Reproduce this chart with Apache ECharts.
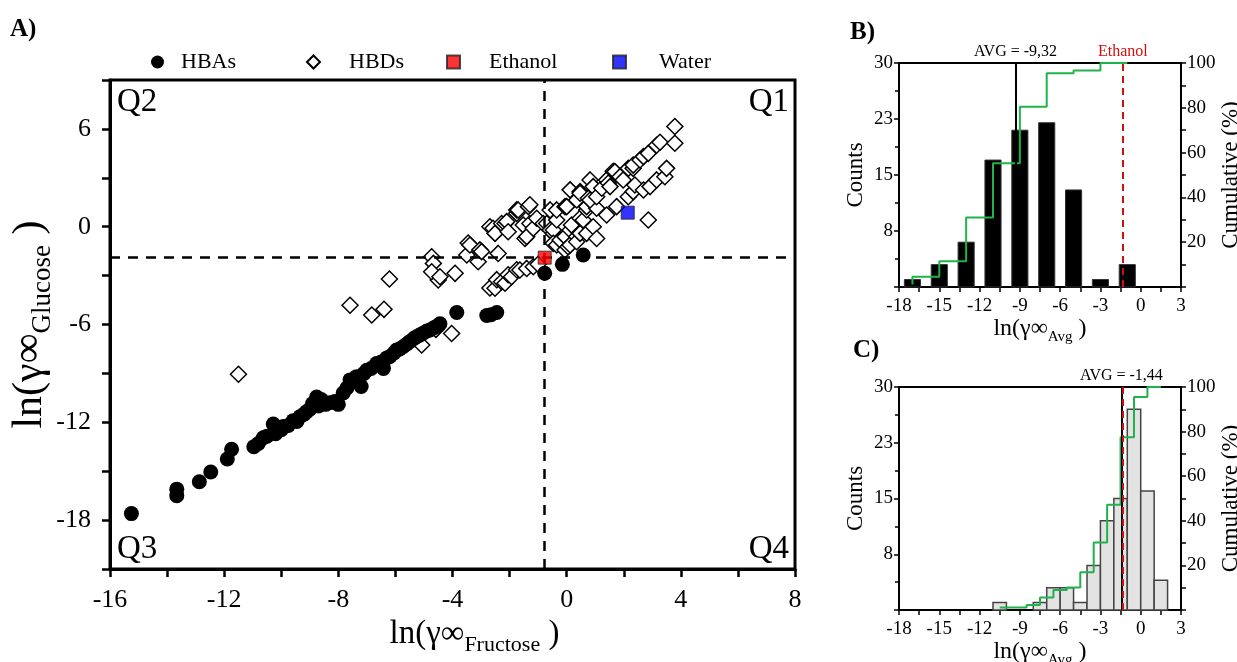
<!DOCTYPE html>
<html>
<head>
<meta charset="utf-8">
<title>Activity coefficients</title>
<script src="https://cdn.jsdelivr.net/npm/echarts@6/dist/echarts.min.js"></script>
<style>
  html, body { margin: 0; padding: 0; background: #fff; }
  #chart { width: 1237px; height: 662px; }
</style>
</head>
<body>
<div id="chart"></div>
<script>
// scatter A: ln(gamma inf) fructose (x) vs glucose (y)
const hbaPoints = [
  [-15.25, -17.6], [-13.66, -16.1], [-13.66, -16.5], [-12.87, -15.65], [-12.47, -15.05],
  [-11.89, -14.25], [-11.74, -13.65], [-10.96, -13.5], [-10.8, -13.3], [-10.63, -12.95],
  [-10.5, -12.85], [-10.28, -12.1], [-10.2, -12.7], [-10.0, -12.45], [-9.93, -12.25],
  [-9.75, -12.2], [-9.58, -11.9], [-9.45, -11.95], [-9.35, -11.66], [-9.2, -11.5],
  [-9.12, -11.36], [-9.0, -11.2], [-8.9, -10.85], [-8.76, -10.45], [-8.7, -11.0],
  [-8.6, -10.6], [-8.45, -10.9], [-8.3, -10.8], [-8.12, -10.72], [-8.0, -10.9],
  [-7.83, -10.2], [-7.7, -9.9], [-7.59, -9.4], [-7.45, -9.5], [-7.36, -9.2],
  [-7.2, -9.8], [-7.1, -9.0], [-7.0, -8.8], [-6.85, -8.7], [-6.66, -8.4],
  [-6.5, -8.3], [-6.42, -8.7], [-6.3, -8.05], [-6.19, -7.96], [-6.05, -7.75],
  [-5.96, -7.57], [-5.85, -7.5], [-5.72, -7.35], [-5.6, -7.2], [-5.49, -7.04],
  [-5.35, -6.85], [-5.26, -6.75], [-5.15, -6.65], [-5.03, -6.53], [-4.9, -6.4],
  [-4.79, -6.34], [-4.65, -6.2], [-4.56, -6.12], [-4.44, -5.95], [-3.85, -5.26],
  [-2.8, -5.45], [-2.65, -5.4], [-2.45, -5.26], [-0.77, -2.86], [-0.15, -2.31],
  [0.58, -1.74]
];
const hbdPoints = [
  [-11.5, -9.05], [-7.59, -4.82], [-6.83, -5.42], [-6.4, -5.07], [-6.21, -3.21],
  [-5.08, -7.26], [-4.58, -6.3], [-4.03, -6.55], [-4.5, -3.27],
  [-4.73, -1.84], [-4.67, -2.25], [-4.73, -2.76], [-4.44, -3.07], [-3.91, -2.86],
  [-3.5, -1.74], [-3.45, -1.0], [-3.39, -1.12], [-3.1, -2.15], [-3.04, -1.42], [-2.98, -1.53],
  [-2.69, 0.0], [-2.58, -0.1], [-2.51, -0.41], [-2.4, -1.64], [-2.28, 0.2], [-2.16, 0.2],
  [-2.1, 0.31], [-2.05, -0.31], [-1.75, 0.82], [-1.75, 1.03], [-1.7, 1.03], [-1.52, 0.1],
  [-1.46, -0.72], [-1.4, -0.61], [-1.34, 1.23], [-1.29, 1.35], [-1.29, 0.2], [-1.17, -0.1],
  [-1.05, 0.52], [-0.82, 0.2], [-0.7, 0.2],
  [-2.69, -3.76], [-2.51, -3.78], [-2.45, -3.25], [-2.28, -3.38], [-2.16, -3.47],
  [-2.05, -2.95], [-1.93, -3.07], [-1.75, -2.64], [-1.64, -2.66], [-1.4, -2.56],
  [-1.17, -2.46], [-1.0, -2.3],
  [-0.58, 1.03], [-0.58, -0.2], [-0.47, -0.41], [-0.47, -0.2], [-0.47, -1.02], [-0.35, 0.41],
  [-0.35, -1.12], [-0.35, 1.03], [-0.23, -0.82], [-0.06, 1.23], [-0.06, -0.61], [-0.06, -1.43],
  [0.0, 1.23], [0.05, -1.23], [0.12, -0.2], [0.12, -1.12], [0.17, 0.1], [0.35, -0.61],
  [0.35, -0.92], [0.47, 0.52], [0.47, -0.41], [0.58, 0.41], [0.7, -0.41], [0.7, 1.03],
  [0.7, 1.23], [0.93, 0.0], [1.05, -0.72], [1.05, 1.13], [1.4, 0.72], [1.75, 1.23],
  [2.86, 0.41],
  [0.12, 2.26], [0.35, 1.64], [0.47, 2.15], [0.47, 2.05], [0.76, 1.74], [0.82, 1.64],
  [0.82, 2.87], [0.93, 2.46], [1.05, 1.84], [1.23, 2.36], [1.4, 2.87], [1.46, 2.68],
  [1.52, 2.46], [1.63, 3.4], [1.69, 3.38], [1.87, 3.07], [1.98, 2.87], [2.16, 1.84],
  [2.16, 3.58], [2.33, 2.15], [2.33, 3.58], [2.33, 3.78], [2.39, 2.56], [2.57, 4.09],
  [2.69, 2.25], [2.69, 4.3], [2.86, 4.5], [2.92, 2.46], [3.15, 2.87], [3.15, 5.0],
  [3.27, 5.18], [3.44, 3.07], [3.5, 3.58], [3.79, 5.12], [3.79, 6.15]
];
const ethanolPoint = [-0.77, -1.9];
const waterPoint = [2.14, 0.86];
const quadrantX = -0.77;
const quadrantY = -1.9;

// histogram B (HBAs): bin centres, counts, cumulative %
const binsB = [-17, -15, -13, -11, -9, -7, -5, -3, -1];
const countsB = [1, 3, 6, 17, 21, 22, 13, 1, 3];
const cumB = [1.1, 4.6, 11.5, 31.0, 55.2, 80.5, 95.4, 96.6, 100];
const avgB = -9.32;

// histogram C (HBDs)
const binsC = [-10.5, -9.5, -8.5, -7.5, -6.5, -5.5, -4.5, -3.5, -2.5, -1.5, -0.5, 0.5, 1.5];
const countsC = [1, 0, 0, 1, 3, 3, 1, 6, 12, 15, 27, 16, 4];
const cumC = [1.1, 1.1, 1.1, 2.2, 5.6, 9.0, 10.1, 16.9, 30.3, 47.2, 77.5, 95.5, 100];
const avgC = -1.44;
const ethanolAvg = -1.33;

const serif = '"Liberation Serif", "DejaVu Serif", serif';
const chart = echarts.init(document.getElementById('chart'));

function barRenderer(halfWidth, fill, stroke, lw) {
  return function (params, api) {
    const x = api.value(0);
    const c = api.value(1);
    if (!c) return null;
    const p0 = api.coord([x - halfWidth, c]);
    const p1 = api.coord([x + halfWidth, 0]);
    return {
      type: 'rect',
      shape: { x: p0[0], y: p0[1], width: p1[0] - p0[0], height: p1[1] - p0[1] },
      style: { fill: fill, stroke: stroke, lineWidth: lw }
    };
  };
}

const histX = (idx) => ({
  gridIndex: idx, type: 'value', min: -18, max: 3, interval: 3,
  name: '{a|ln(γ∞}{s|Avg}{a| )}', nameLocation: 'middle', nameGap: 26,
  nameTextStyle: {
    fontFamily: serif, color: '#000',
    rich: {
      a: { fontSize: 24, fontFamily: serif, lineHeight: 28, verticalAlign: 'top' },
      s: { fontSize: 15, fontFamily: serif, lineHeight: 28, verticalAlign: 'bottom' }
    }
  },
  axisLine: { onZero: false, lineStyle: { color: '#000', width: 2 } },
  axisTick: { length: 5, lineStyle: { color: '#000', width: 1.5 } },
  minorTick: { show: true, splitNumber: 2, length: 5, lineStyle: { color: '#000', width: 1.5 } },
  axisLabel: { fontFamily: serif, fontSize: 19, color: '#000', margin: 10 },
  splitLine: { show: false }
});
const histCounts = (idx) => ({
  gridIndex: idx, type: 'value', min: 0, max: 30, interval: 7.5,
  name: 'Counts', nameLocation: 'middle', nameGap: 32, nameRotate: 90,
  nameTextStyle: { fontFamily: serif, fontSize: 23, color: '#000' },
  axisLine: { onZero: false, lineStyle: { color: '#000', width: 2 } },
  axisTick: { length: 5, lineStyle: { color: '#000', width: 1.5 } },
  minorTick: { show: true, splitNumber: 2, length: 4, lineStyle: { color: '#000', width: 1.5 } },
  axisLabel: {
    fontFamily: serif, fontSize: 19, color: '#000', margin: 6,
    formatter: (v) => (v === 0 ? '' : String(Math.round(v)))
  },
  splitLine: { show: false }
});
const histCum = (idx) => ({
  gridIndex: idx, type: 'value', min: 0, max: 100, interval: 20, position: 'right',
  name: 'Cumulative (%)', nameLocation: 'middle', nameGap: 34, nameRotate: 90,
  nameTextStyle: { fontFamily: serif, fontSize: 23, color: '#000' },
  axisLine: { show: true, onZero: false, lineStyle: { color: '#000', width: 2 } },
  axisTick: { show: true, length: 5, lineStyle: { color: '#000', width: 1.5 } },
  minorTick: { show: true, splitNumber: 2, length: 5, lineStyle: { color: '#000', width: 1.5 } },
  axisLabel: {
    fontFamily: serif, fontSize: 19, color: '#000', margin: 6,
    formatter: (v) => (v === 0 ? '' : String(v))
  },
  splitLine: { show: false }
});

const vLine = (x, color, type, text) => ({
  xAxis: x,
  lineStyle: { color: color, type: type, width: 2 },
  label: text ? { show: true, position: 'end', formatter: text, color: color, fontFamily: serif, fontSize: 16, distance: 3 } : { show: false }
});

const legendBase = (name, left, pad) => ({
  data: [name], left: left, top: 46, itemWidth: 13, itemHeight: 13,
  selectedMode: false,
  textStyle: { fontFamily: serif, fontSize: 22, color: '#000', padding: [0, 0, 0, pad] }
});

const quad = (text, x, y, align) => ({
  type: 'text', x: x, y: y,
  style: { text: text, font: '33px ' + serif, fill: '#000', align: align, verticalAlign: 'top' }
});
const panel = (text, x, y) => ({
  type: 'text', x: x, y: y,
  style: { text: text, font: 'bold 25px ' + serif, fill: '#000', verticalAlign: 'top' }
});

const gridBase = { show: true, borderColor: '#000', backgroundColor: 'transparent', outerBoundsMode: 'none', containLabel: false };

const option = {
  animation: false,
  backgroundColor: '#fff',
  graphic: [
    panel('A)', 10, 17), panel('B)', 850, 20), panel('C)', 853, 338),
    quad('Q2', 117, 86, 'left'), quad('Q1', 789, 86, 'right'),
    quad('Q3', 117, 533, 'left'), quad('Q4', 789, 533, 'right')
  ],
  legend: [
    legendBase('HBAs', 146, 12),
    legendBase('HBDs', 301, 24),
    legendBase('Ethanol', 441, 24),
    legendBase('Water', 607, 28)
  ],
  grid: [
    Object.assign({ left: 110, top: 80, width: 685, height: 489, borderWidth: 3 }, gridBase),
    Object.assign({ left: 899, top: 63, width: 282, height: 224, borderWidth: 2 }, gridBase),
    Object.assign({ left: 899, top: 387, width: 282, height: 223, borderWidth: 2 }, gridBase)
  ],
  xAxis: [
    {
      gridIndex: 0, type: 'value', min: -16, max: 8, interval: 2,
      name: '{a|ln(γ∞}{s|Fructose}{a| )}', nameLocation: 'middle', nameGap: 44,
      nameTextStyle: {
        fontFamily: serif, color: '#000', padding: [0, 0, 0, 44],
        rich: {
          a: { fontSize: 33, fontFamily: serif, lineHeight: 38, verticalAlign: 'top' },
          s: { fontSize: 22, fontFamily: serif, lineHeight: 38, verticalAlign: 'bottom' }
        }
      },
      axisLine: { onZero: false, lineStyle: { color: '#000', width: 3 } },
      axisTick: { length: 8, lineStyle: { color: '#000', width: 2.5 } },
      axisLabel: {
        fontFamily: serif, fontSize: 26, color: '#000', margin: 18,
        formatter: (v) => (v % 4 === 0 ? String(v) : '')
      },
      splitLine: { show: false }
    },
    histX(1), histX(2)
  ],
  yAxis: [
    {
      gridIndex: 0, type: 'value', min: -21, max: 9, interval: 3,
      name: '{a|ln(γ∞}{s|Glucose}{a| )}', nameLocation: 'middle', nameGap: 54, nameRotate: 90,
      nameMoveOverlap: false,
      nameTextStyle: {
        fontFamily: serif, color: '#000',
        rich: {
          a: { fontSize: 42, fontFamily: serif, lineHeight: 46, verticalAlign: 'top' },
          s: { fontSize: 27, fontFamily: serif, lineHeight: 47, verticalAlign: 'bottom' }
        }
      },
      axisLine: { onZero: false, lineStyle: { color: '#000', width: 3 } },
      axisTick: { length: 8, lineStyle: { color: '#000', width: 2.5 } },
      axisLabel: {
        fontFamily: serif, fontSize: 26, color: '#000', margin: 19,
        formatter: (v) => (v % 6 === 0 ? String(v) : '')
      },
      splitLine: { show: false }
    },
    histCounts(1), histCum(1), histCounts(2), histCum(2)
  ],
  series: [
    {
      name: 'HBAs', type: 'scatter', xAxisIndex: 0, yAxisIndex: 0,
      symbol: 'circle', symbolSize: 15, data: hbaPoints,
      itemStyle: { color: '#000', opacity: 1 }, z: 3
    },
    {
      name: 'HBDs', type: 'scatter', xAxisIndex: 0, yAxisIndex: 0,
      symbol: 'diamond', symbolSize: 16, data: hbdPoints,
      itemStyle: { color: '#fff', borderColor: '#000', borderWidth: 1.5, opacity: 1 }, z: 2,
      markLine: {
        silent: true, symbol: 'none', animation: false,
        lineStyle: { color: '#000', type: [10, 8], width: 2.5 },
        label: { show: false },
        data: [{ xAxis: quadrantX }, { yAxis: quadrantY }]
      }
    },
    {
      name: 'Ethanol', type: 'scatter', xAxisIndex: 0, yAxisIndex: 0,
      symbol: 'rect', symbolSize: 13, data: [ethanolPoint],
      itemStyle: { color: '#ff0000', borderColor: '#222', borderWidth: 1 }, z: 5
    },
    {
      name: 'Water', type: 'scatter', xAxisIndex: 0, yAxisIndex: 0,
      symbol: 'rect', symbolSize: 13, data: [waterPoint],
      itemStyle: { color: '#0000ff', borderColor: '#222', borderWidth: 1 }, z: 5
    },
    {
      type: 'custom', xAxisIndex: 1, yAxisIndex: 1,
      renderItem: barRenderer(0.6, '#000', '#333', 1),
      data: binsB.map((b, i) => [b, countsB[i]]), z: 2,
      markLine: {
        silent: true, symbol: 'none', animation: false,
        data: [vLine(avgB, '#000', 'solid', 'AVG = -9,32'), vLine(ethanolAvg, '#cc1010', [7, 5], 'Ethanol')]
      }
    },
    {
      type: 'line', xAxisIndex: 1, yAxisIndex: 2, step: 'start', showSymbol: false,
      data: binsB.map((b, i) => [b, cumB[i]]),
      lineStyle: { color: '#22b24c', width: 2 }, z: 4
    },
    {
      type: 'custom', xAxisIndex: 2, yAxisIndex: 3,
      renderItem: barRenderer(0.5, '#e3e3e3', '#444', 1.5),
      data: binsC.map((b, i) => [b, countsC[i]]), z: 2,
      markLine: {
        silent: true, symbol: 'none', animation: false,
        data: [vLine(avgC, '#000', 'solid', 'AVG = -1,44'), vLine(ethanolAvg, '#cc1010', [7, 5], null)]
      }
    },
    {
      type: 'line', xAxisIndex: 2, yAxisIndex: 4, step: 'start', showSymbol: false,
      data: binsC.map((b, i) => [b, cumC[i]]),
      lineStyle: { color: '#22b24c', width: 2 }, z: 4
    }
  ]
};

chart.setOption(option);
</script>
</body>
</html>
